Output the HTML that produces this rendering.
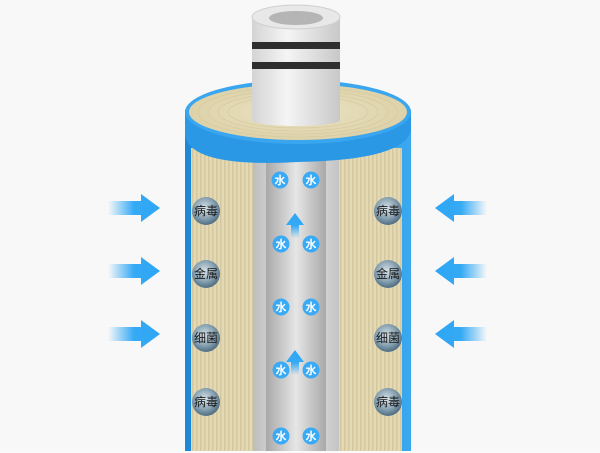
<!DOCTYPE html>
<html><head><meta charset="utf-8"><style>
html,body{margin:0;padding:0;background:#f8f8f8;}
svg{display:block}
text{font-family:"Liberation Sans","Noto Sans CJK SC",sans-serif;}
</style></head><body>
<svg width="600" height="453" viewBox="0 0 600 453" xmlns="http://www.w3.org/2000/svg">
<defs>
<linearGradient id="arrL" x1="0" x2="1"><stop offset="0" stop-color="#35aaf5" stop-opacity="0"/><stop offset="0.5" stop-color="#35aaf5"/><stop offset="1" stop-color="#2ea6f5"/></linearGradient>
<linearGradient id="arrR" x1="1" x2="0"><stop offset="0" stop-color="#35aaf5" stop-opacity="0"/><stop offset="0.5" stop-color="#35aaf5"/><stop offset="1" stop-color="#2ea6f5"/></linearGradient>
<linearGradient id="arrU" x1="0" y1="1" x2="0" y2="0"><stop offset="0" stop-color="#35aaf5" stop-opacity="0"/><stop offset="0.5" stop-color="#35aaf5"/><stop offset="1" stop-color="#2ea6f5"/></linearGradient>
<linearGradient id="tubeO" x1="0" x2="1"><stop offset="0" stop-color="#bdbdbd"/><stop offset="0.5" stop-color="#eeeeee"/><stop offset="1" stop-color="#c4c4c4"/></linearGradient>
<linearGradient id="tubeI" x1="0" x2="1"><stop offset="0" stop-color="#a8a8a8"/><stop offset="0.5" stop-color="#e6e6e6"/><stop offset="1" stop-color="#a9a9a9"/></linearGradient>
<linearGradient id="cap" x1="0" x2="1"><stop offset="0" stop-color="#d4d4d4"/><stop offset="0.4" stop-color="#f5f5f5"/><stop offset="1" stop-color="#c8c8c8"/></linearGradient>
<linearGradient id="blueSide" x1="0" x2="1"><stop offset="0" stop-color="#1e88d8"/><stop offset="1" stop-color="#3aa8ee"/></linearGradient>
<pattern id="stripes" width="4" height="10" patternUnits="userSpaceOnUse"><rect width="4" height="10" fill="#e4d9b5"/><rect width="1.5" height="10" fill="#d5c89e"/></pattern>
<radialGradient id="ball" cx="0.45" cy="0.4" r="0.6"><stop offset="0" stop-color="#d8e4ea"/><stop offset="0.6" stop-color="#8aa3b3"/><stop offset="1" stop-color="#4f6d82"/></radialGradient>
<radialGradient id="topEl" cx="0.5" cy="0.5" r="0.5"><stop offset="0" stop-color="#ebe3c4"/><stop offset="1" stop-color="#ddd2a9"/></radialGradient>
</defs>
<rect width="600" height="453" fill="#f8f8f8"/>
<rect x="185" y="110" width="226" height="341" fill="url(#blueSide)"/>
<rect x="191" y="148" width="211" height="303" fill="url(#stripes)"/>
<rect x="253" y="150" width="86" height="301" fill="url(#tubeO)"/>
<rect x="266" y="150" width="60" height="301" fill="url(#tubeI)"/>
<path d="M185 112 L185 135 Q190 168 298 162 Q405 160 411 130 L411 112 Z" fill="#2b98e6"/>
<ellipse cx="298" cy="112" rx="113" ry="32" fill="#3aa6ef"/>
<ellipse cx="298" cy="112" rx="109" ry="28" fill="url(#topEl)"/>
<g fill="none" stroke="#cfc396" stroke-width="0.6" opacity="0.7">
<ellipse cx="298" cy="112" rx="100" ry="25"/><ellipse cx="298" cy="112" rx="90" ry="22"/><ellipse cx="298" cy="112" rx="80" ry="19"/><ellipse cx="298" cy="112" rx="70" ry="16"/>
</g>
<rect x="252" y="17" width="88" height="103" fill="url(#cap)"/>
<ellipse cx="296" cy="120" rx="44" ry="6" fill="url(#cap)"/>
<rect x="252" y="42" width="88" height="7" fill="#2e2e2e"/>
<rect x="252" y="62" width="88" height="7" fill="#2e2e2e"/>
<ellipse cx="296" cy="17" rx="44" ry="12" fill="#e8e8e8" stroke="#cfcfcf"/>
<ellipse cx="296" cy="18" rx="27" ry="7" fill="#b5b5b5"/>
<g font-size="12" fill="#1a1a1a" text-anchor="middle">
<g><circle cx="206" cy="211" r="14" fill="url(#ball)"/><text x="206" y="215">病毒</text></g>
<g><circle cx="206" cy="274" r="14" fill="url(#ball)"/><text x="206" y="278">金属</text></g>
<g><circle cx="206" cy="338" r="14" fill="url(#ball)"/><text x="206" y="342">细菌</text></g>
<g><circle cx="206" cy="402" r="14" fill="url(#ball)"/><text x="206" y="406">病毒</text></g>
<g><circle cx="388" cy="211" r="14" fill="url(#ball)"/><text x="388" y="215">病毒</text></g>
<g><circle cx="388" cy="274" r="14" fill="url(#ball)"/><text x="388" y="278">金属</text></g>
<g><circle cx="388" cy="338" r="14" fill="url(#ball)"/><text x="388" y="342">细菌</text></g>
<g><circle cx="388" cy="402" r="14" fill="url(#ball)"/><text x="388" y="406">病毒</text></g>
</g>
<path d="M291 238 L291 225 L286 225 L295 213 L304 225 L299 225 L299 238 Z" fill="url(#arrU)"/>
<path d="M291 375 L291 362 L286 362 L295 350 L304 362 L299 362 L299 375 Z" fill="url(#arrU)"/>
<g font-size="11" fill="#fff" text-anchor="middle" font-weight="bold">
<g><circle cx="280" cy="180" r="8.5" fill="#3aaaf5"/><text x="280" y="184">水</text></g>
<g><circle cx="311" cy="180" r="8.5" fill="#3aaaf5"/><text x="311" y="184">水</text></g>
<g><circle cx="281" cy="244" r="8.5" fill="#3aaaf5"/><text x="281" y="248">水</text></g>
<g><circle cx="311" cy="244" r="8.5" fill="#3aaaf5"/><text x="311" y="248">水</text></g>
<g><circle cx="281" cy="307" r="8.5" fill="#3aaaf5"/><text x="281" y="311">水</text></g>
<g><circle cx="311" cy="307" r="8.5" fill="#3aaaf5"/><text x="311" y="311">水</text></g>
<g><circle cx="281" cy="370" r="8.5" fill="#3aaaf5"/><text x="281" y="374">水</text></g>
<g><circle cx="311" cy="370" r="8.5" fill="#3aaaf5"/><text x="311" y="374">水</text></g>
<g><circle cx="281" cy="436" r="8.5" fill="#3aaaf5"/><text x="281" y="440">水</text></g>
<g><circle cx="311" cy="436" r="8.5" fill="#3aaaf5"/><text x="311" y="440">水</text></g>
</g>
<g fill="url(#arrL)">
<path d="M108 201 L141 201 L141 194 L160 208 L141 222 L141 215 L108 215 Z"/>
<path d="M108 264 L141 264 L141 257 L160 271 L141 285 L141 278 L108 278 Z"/>
<path d="M108 327 L141 327 L141 320 L160 334 L141 348 L141 341 L108 341 Z"/>
</g>
<g fill="url(#arrR)">
<path d="M487 201 L454 201 L454 194 L435 208 L454 222 L454 215 L487 215 Z"/>
<path d="M487 264 L454 264 L454 257 L435 271 L454 285 L454 278 L487 278 Z"/>
<path d="M487 327 L454 327 L454 320 L435 334 L454 348 L454 341 L487 341 Z"/>
</g>
<rect x="0" y="451" width="600" height="2" fill="#fafafa"/>
</svg>
</body></html>
